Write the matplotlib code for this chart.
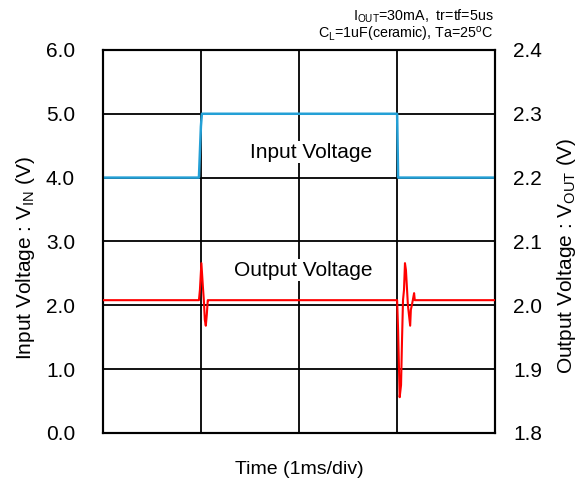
import matplotlib.pyplot as plt

plt.rcParams["font.family"] = ["Liberation Sans", "DejaVu Sans"]

# input voltage (left axis), time in ms
vin_t = [0.0, 0.98, 1.0, 1.01, 3.0, 3.01, 4.0]
vin_v = [4.0, 4.0, 4.8, 5.0, 5.0, 4.0, 4.0]

# output voltage (right axis), time in ms
vout_t = [0.0, 0.98, 0.99, 1.005, 1.02, 1.03, 1.04, 1.05, 1.06, 1.07, 1.08,
          3.0, 3.01, 3.026, 3.04, 3.05, 3.06, 3.07, 3.08, 3.09, 3.11, 3.133,
          3.14, 3.15, 3.16, 3.173, 3.18, 4.0]
vout_v = [2.008, 2.008, 2.024, 2.066, 2.030, 2.008, 1.977, 1.968, 1.985, 2.008, 2.008,
          2.008, 1.961, 1.856, 1.875, 1.946, 2.008, 2.024, 2.066, 2.055, 2.000, 1.968,
          1.993, 2.000, 2.008, 2.019, 2.008, 2.008]

left_ticks = [0, 1, 2, 3, 4, 5, 6]
right_ticks = [1.8, 1.9, 2.0, 2.1, 2.2, 2.3, 2.4]

fig, ax = plt.subplots(figsize=(5.84, 4.8), dpi=100)
fig.subplots_adjust(left=0.176, right=0.848, top=0.896, bottom=0.098)
ax2 = ax.twinx()

ax.plot(vin_t, vin_v, color="#24a0d6", lw=1.8, zorder=3)
ax2.plot(vout_t, vout_v, color="#ff0000", lw=1.5, zorder=3)

ax.set_xlim(0, 4)
ax.set_ylim(0, 6)
ax2.set_ylim(1.8, 2.4)
ax.set_xticks([0, 1, 2, 3, 4])
ax.set_xticklabels([])
ax.set_yticks(left_ticks)
ax.set_yticklabels(["%.1f" % v for v in left_ticks])
ax2.set_yticks(right_ticks)
ax2.set_yticklabels(["%.1f" % v for v in right_ticks])
ax.grid(True, color="black", lw=1.3)
ax.tick_params(axis="both", length=0, labelsize=15, pad=20)
ax2.tick_params(axis="y", length=0, labelsize=15, pad=13)
for a in (ax, ax2):
    for s in a.spines.values():
        s.set_linewidth(1.5)

ax.set_xlabel("Time (1ms/div)", fontsize=14, labelpad=0)
ax.set_ylabel("Input Voltage : V$_{\\mathregular{IN}}$ (V)", fontsize=15)
ax2.set_ylabel("Output Voltage : V$_{\\mathregular{OUT}}$ (V)", fontsize=15)
ax.yaxis.set_label_coords(-0.168, 0.457)
ax2.yaxis.set_label_coords(1.153, 0.462)

box = dict(facecolor="white", edgecolor="none", pad=1)
ax2.text(2.12, 2.24, "Input Voltage", fontsize=15, ha="center", va="center", bbox=box, zorder=4)
ax2.text(2.04, 2.055, "Output Voltage", fontsize=15, ha="center", va="center", bbox=box, zorder=4)

fig.text(0.845, 0.967, "I$_{\\mathregular{OUT}}$=30mA,  tr=tf=5us", fontsize=10.3, ha="right", va="center")
fig.text(0.845, 0.928, "C$_{\\mathregular{L}}$=1uF(ceramic), Ta=25$^{\\mathregular{o}}$C", fontsize=10.3, ha="right", va="center")

plt.savefig("out.png", dpi=100)
